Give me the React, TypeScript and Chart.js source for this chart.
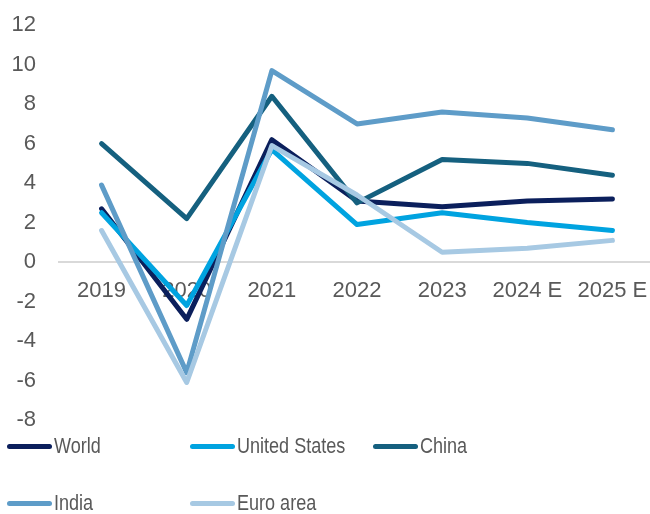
import React, { useEffect, useRef } from "react";
import { Chart, registerables } from "chart.js";

Chart.register(...registerables);

const years = ["2019", "2020", "2021", "2022", "2023", "2024 E", "2025 E"];
const world = [2.7, -2.9, 6.2, 3.1, 2.8, 3.1, 3.2];
const unitedStates = [2.5, -2.2, 5.7, 1.9, 2.5, 2.0, 1.6];
const china = [6.0, 2.2, 8.4, 3.0, 5.2, 5.0, 4.4];
const india = [3.9, -5.6, 9.7, 7.0, 7.6, 7.3, 6.7];
const euroArea = [1.6, -6.1, 5.9, 3.4, 0.5, 0.7, 1.1];

const seriesNames = ["World", "United States", "China", "India", "Euro area"];
const seriesData = [world, unitedStates, china, india, euroArea];
const seriesColors = ["#0b1f5c", "#00a3e0", "#15607f", "#5e9cc8", "#a7c9e3"];

const TEXT = "#595959";
const TICK_FONT = "'Liberation Sans', Arial, sans-serif";
const LEGEND_FONT = "'Liberation Sans', Arial, sans-serif";

const legendCols = [7, 190, 373];
const legendRows = [446, 503];

export default function App() {
  const ref = useRef<HTMLCanvasElement | null>(null);

  useEffect(() => {
    if (!ref.current) return;
    const chart = new Chart(ref.current, {
      type: "line",
      data: {
        labels: years,
        datasets: seriesNames.map((name, i) => ({
          label: name,
          data: seriesData[i],
          borderColor: seriesColors[i],
          backgroundColor: seriesColors[i],
          borderWidth: 5,
          pointRadius: 0,
          pointHoverRadius: 0,
          tension: 0,
          borderCapStyle: "round" as const,
          borderJoinStyle: "round" as const,
          order: seriesNames.length - i,
        })),
      },
      options: {
        responsive: false,
        animation: false,
        layout: { padding: { top: 1, bottom: 94, left: 0, right: 0 } },
        plugins: { legend: { display: false }, tooltip: { enabled: false } },
        scales: {
          x: {
            position: { y: 0 } as any,
            offset: true,
            grid: { display: false, drawTicks: false },
            border: { display: true, color: "#d9d9d9", width: 2 },
            ticks: {
              color: TEXT,
              font: { family: TICK_FONT, size: 22 },
              padding: 16,
              maxRotation: 0,
              autoSkip: false,
            },
            afterFit: (scale: any) => {
              scale.paddingLeft = 0;
              scale.paddingRight = 0;
            },
          },
          y: {
            min: -8,
            max: 12,
            grid: { display: false, drawTicks: false },
            border: { display: false },
            ticks: {
              stepSize: 2,
              color: TEXT,
              font: { family: TICK_FONT, size: 22 },
              padding: 23,
            },
            afterFit: (scale: any) => {
              scale.width = 59;
            },
          },
        },
      },
    });
    return () => chart.destroy();
  }, []);

  return (
    <div
      style={{
        position: "absolute",
        left: 0,
        top: 0,
        width: 650,
        height: 514,
        overflow: "hidden",
        background: "#fff",
      }}
    >
      <canvas
        ref={ref}
        width={655}
        height={525}
        style={{ display: "block", width: 655, height: 525, marginTop: -11 }}
      />
      {seriesNames.map((name, i) => (
        <div
          key={name}
          style={{
            position: "absolute",
            left: legendCols[i % 3],
            top: legendRows[Math.floor(i / 3)] - 15,
            height: 30,
            display: "flex",
            alignItems: "center",
            whiteSpace: "nowrap",
          }}
        >
          <span
            style={{
              display: "inline-block",
              width: 45,
              height: 5,
              borderRadius: 3,
              background: seriesColors[i],
            }}
          />
          <span
            style={{
              display: "inline-block",
              marginLeft: 2,
              fontFamily: LEGEND_FONT,
              fontSize: 22,
              lineHeight: "30px",
              color: TEXT,
              transform: "scaleX(0.82)",
              transformOrigin: "left center",
            }}
          >
            {name}
          </span>
        </div>
      ))}
    </div>
  );
}
